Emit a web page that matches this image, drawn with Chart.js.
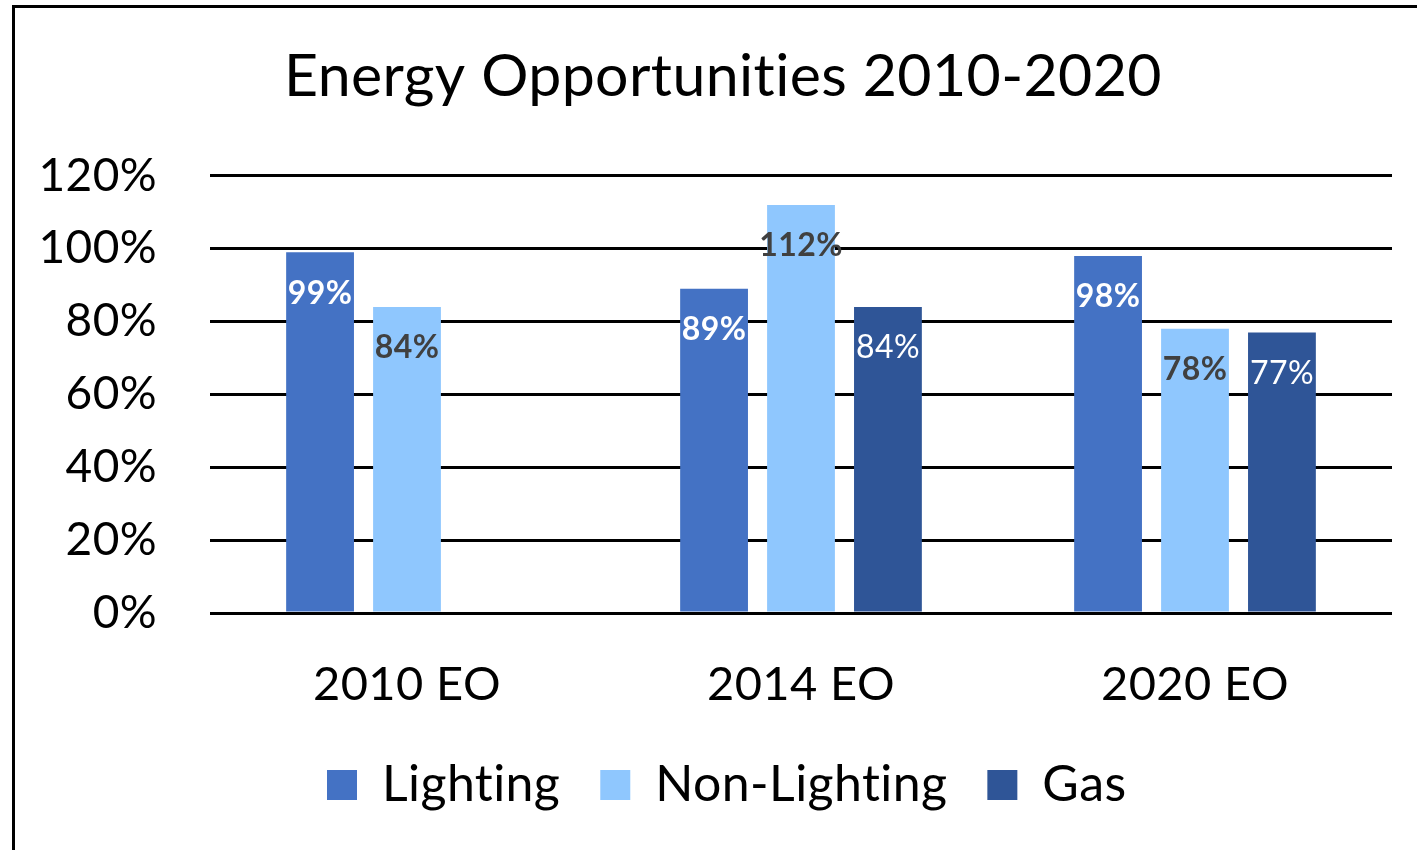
<!DOCTYPE html>
<html>
<head>
<meta charset="utf-8">
<script src="https://cdn.jsdelivr.net/npm/chart.js@4.4.0/dist/chart.umd.min.js"></script>
<style>
  html, body { margin: 0; padding: 0; background: #fff; }
  #myChart { position: absolute; left: 0; top: 0; }
</style>
</head>
<body>
<canvas id="myChart" width="1417" height="850"></canvas>
<script>
const categories = ['2010 EO', '2014 EO', '2020 EO']
const lighting = [0.99, 0.89, 0.98]
const nonLighting = [0.84, 1.12, 0.78]
const gas = [null, 0.84, 0.77]

const fontName = 'Lato, "Open Sans", sans-serif'

// frame like the pasted excel chart (left + top edge only)
const framePlugin = {
    id: 'frame',
    beforeInit(chart) {
        // small spacing so Lato does not join "ti"
        chart.ctx.letterSpacing = '0.4px'
    },
    beforeDraw(chart) {
        const c = chart.ctx
        c.letterSpacing = '0.4px'
        c.save()
        c.fillStyle = '#fff'
        c.fillRect(0, 0, chart.width, chart.height)
        c.fillStyle = '#000'
        c.fillRect(12, 5, chart.width - 12, 3)
        c.fillRect(12, 5, 3, chart.height - 5)
        c.restore()
    }
}

// value labels inside the top of each bar
const labelPlugin = {
    id: 'barLabels',
    afterDatasetsDraw(chart) {
        const c = chart.ctx
        c.save()
        c.textAlign = 'center'
        c.textBaseline = 'middle'
        chart.data.datasets.forEach((ds, i) => {
            const meta = chart.getDatasetMeta(i)
            meta.data.forEach((bar, j) => {
                const v = ds.data[j]
                if (v == null) return
                c.font = ds.labelWeight + ' 32px ' + fontName
                c.fillStyle = ds.labelColor
                c.fillText(Math.round(v * 100) + '%', bar.x, bar.y + 41)
            })
        })
        c.restore()
    }
}

const ctx = document.getElementById('myChart')

const myChart = new Chart(ctx, {
    type: 'bar',
    data: {
        labels: categories,
        datasets: [
            { label: 'Lighting', data: lighting, backgroundColor: '#4472C4', labelColor: '#fff', labelWeight: 'bold' },
            { label: 'Non-Lighting', data: nonLighting, backgroundColor: '#8FC7FE', labelColor: '#404040', labelWeight: 'bold' },
            { label: 'Gas', data: gas, backgroundColor: '#2F5597', labelColor: '#fff', labelWeight: 'normal' }
        ]
    },
    options: {
        responsive: false,
        maintainAspectRatio: false,
        animation: false,
        devicePixelRatio: 1,
        layout: { padding: { left: 54, right: 25, top: 20, bottom: 30 } },
        datasets: {
            bar: { categoryPercentage: 0.662, barPercentage: 0.78 }
        },
        plugins: {
            title: {
                display: true,
                text: 'Energy Opportunities 2010-2020',
                color: '#000',
                font: { family: fontName, size: 59, weight: 'normal' },
                padding: { top: 22, bottom: 63 }
            },
            legend: {
                position: 'bottom',
                labels: {
                    color: '#000',
                    font: { family: fontName, size: 50 },
                    boxWidth: 30,
                    boxHeight: 30,
                    padding: 40
                }
            },
            tooltip: { enabled: false }
        },
        scales: {
            x: {
                grid: { display: false, drawTicks: false },
                border: { display: false },
                ticks: { color: '#000', font: { family: fontName, size: 47 }, padding: 44, maxRotation: 0, minRotation: 0 },
                afterFit(scale) { scale.height = 107 }
            },
            y: {
                min: 0,
                max: 1.2,
                grid: { color: '#000', lineWidth: 3, drawTicks: false },
                border: { display: false },
                ticks: {
                    stepSize: 0.2,
                    autoSkip: false,
                    color: '#000',
                    font: { family: fontName, size: 46 },
                    padding: 53,
                    callback: v => Math.round(v * 100) + '%'
                },
                afterFit(scale) {
                    scale.width = 156
                    // let the tick labels run past the axis box on the left
                    scale._computeLabelArea = () => undefined
                }
            }
        }
    },
    plugins: [framePlugin, labelPlugin]
})
</script>
</body>
</html>
